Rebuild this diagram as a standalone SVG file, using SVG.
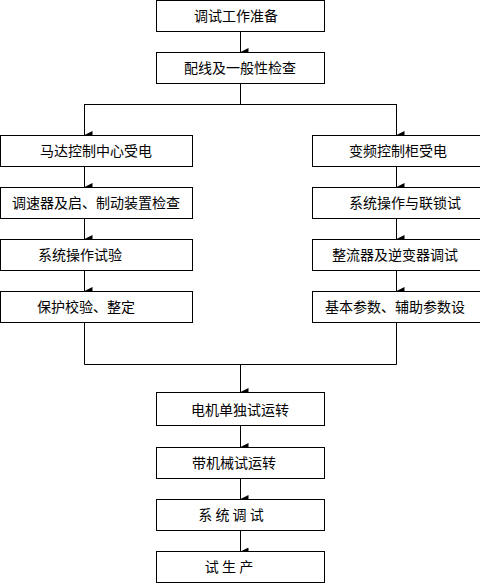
<svg xmlns="http://www.w3.org/2000/svg" width="480" height="583" viewBox="0 0 480 583">
<style>
.b{fill:#fff;stroke:#000;stroke-width:1}
.t{font-family:"Noto Sans CJK SC","Noto Sans CJK JP",sans-serif;font-size:14px;fill:#000;text-anchor:middle;dominant-baseline:central}
.c{fill:none;stroke:#000;stroke-width:1}
</style>
<defs>
<marker id="ah" viewBox="0 0 8 8" refX="4" refY="8" markerWidth="8" markerHeight="8" markerUnits="userSpaceOnUse" orient="auto-start-reverse">
<path d="M0,0 L8,0 L4,8 Z" fill="#000" transform="rotate(0)"/>
</marker>
</defs>
<rect width="480" height="583" fill="#fff"/>
<g id="connectors">
<path class="c" d="M240.5,31 V52" marker-end="url(#ah)"/>
<path class="c" d="M240.5,83 V104"/>
<path class="c" d="M84.5,104.5 H396.5"/>
<path class="c" d="M84.5,104 V135" marker-end="url(#ah)"/>
<path class="c" d="M396.5,104 V135" marker-end="url(#ah)"/>
<path class="c" d="M84.5,166 V187" marker-end="url(#ah)"/>
<path class="c" d="M396.5,166 V187" marker-end="url(#ah)"/>
<path class="c" d="M84.5,218 V239" marker-end="url(#ah)"/>
<path class="c" d="M396.5,218 V239" marker-end="url(#ah)"/>
<path class="c" d="M84.5,270 V291" marker-end="url(#ah)"/>
<path class="c" d="M396.5,270 V291" marker-end="url(#ah)"/>
<path class="c" d="M84.5,322 V364.5 H396.5 V322"/>
<path class="c" d="M240.5,364 V392" marker-end="url(#ah)"/>
<path class="c" d="M240.5,425 V447" marker-end="url(#ah)"/>
<path class="c" d="M240.5,478 V499" marker-end="url(#ah)"/>
<path class="c" d="M240.5,530 V551.5" marker-end="url(#ah)"/>
</g>
<g id="n1"><rect class="b" x="156.5" y="0.5" width="168" height="31"/><text class="t" x="236" y="15">调试工作准备</text></g>
<g id="n2"><rect class="b" x="156.5" y="52.5" width="168" height="31"/><text class="t" x="240" y="67">配线及一般性检查</text></g>
<g id="l1"><rect class="b" x="0.5" y="135.5" width="192" height="31"/><text class="t" x="96" y="150">马达控制中心受电</text></g>
<g id="l2"><rect class="b" x="0.5" y="187.5" width="192" height="31"/><text class="t" x="96" y="202">调速器及启、制动装置检查</text></g>
<g id="l3"><rect class="b" x="0.5" y="239.5" width="192" height="31"/><text class="t" x="80" y="254">系统操作试验</text></g>
<g id="l4"><rect class="b" x="0.5" y="291.5" width="192" height="31"/><text class="t" x="86" y="306">保护校验、整定</text></g>
<g id="r1"><rect class="b" x="312.5" y="135.5" width="170" height="31"/><text class="t" x="398" y="150">变频控制柜受电</text></g>
<g id="r2"><rect class="b" x="312.5" y="187.5" width="170" height="31"/><text class="t" x="405" y="202">系统操作与联锁试</text></g>
<g id="r3"><rect class="b" x="312.5" y="239.5" width="170" height="31"/><text class="t" x="395" y="254">整流器及逆变器调试</text></g>
<g id="r4"><rect class="b" x="312.5" y="291.5" width="170" height="31"/><text class="t" x="395" y="306">基本参数、辅助参数设</text></g>
<g id="b1"><rect class="b" x="156.5" y="392.5" width="168" height="33"/><text class="t" x="240" y="409">电机单独试运转</text></g>
<g id="b2"><rect class="b" x="156.5" y="447.5" width="168" height="31"/><text class="t" x="234" y="462">带机械试运转</text></g>
<g id="b3"><rect class="b" x="156.5" y="499.5" width="168" height="31"/><text class="t" x="231" y="514" xml:space="preserve">系 统 调 试</text></g>
<g id="b4"><rect class="b" x="156.5" y="551.5" width="168" height="31"/><text class="t" x="229" y="566" xml:space="preserve">试 生 产</text></g>
</svg>
